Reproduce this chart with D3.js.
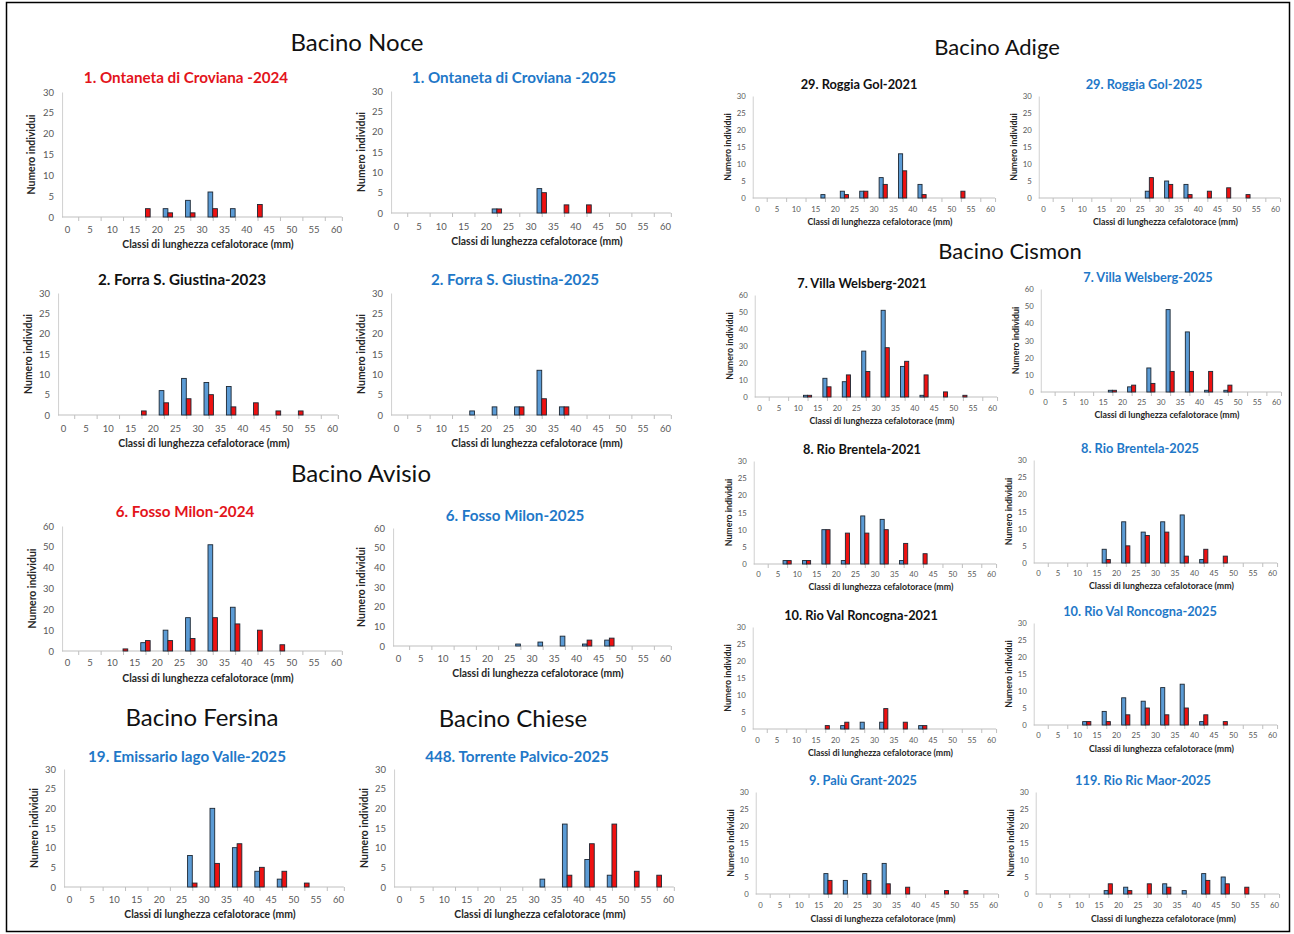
<!DOCTYPE html>
<html>
<head>
<meta charset="utf-8">
<script src="https://cdn.jsdelivr.net/npm/d3@7"></script>
<style>
  html, body { margin: 0; padding: 0; background: #ffffff; }
  svg { display: block; }
  text { font-family: Lato, "Open Sans", sans-serif; }
</style>
</head>
<body>
<svg id="chart" width="1294" height="934"></svg>
<script>
// Size classes of carapace length (mm): bars sit at class midpoints, labels at class bounds
const classMidpoints = [2.5, 7.5, 12.5, 17.5, 22.5, 27.5, 32.5, 37.5, 42.5, 47.5, 52.5, 57.5];
const xTickLabels = [0, 5, 10, 15, 20, 25, 30, 35, 40, 45, 50, 55, 60];
const yTicks30 = [0, 5, 10, 15, 20, 25, 30];
const yTicks60 = [0, 10, 20, 30, 40, 50, 60];

// Counts per class: blue series and red series for each site/year
const ontaneta2024Blue = [0, 0, 0, 0, 2, 4, 6, 2, 0, 0, 0, 0];
const ontaneta2024Red  = [0, 0, 0, 2, 1, 1, 2, 0, 3, 0, 0, 0];
const ontaneta2025Blue = [0, 0, 0, 0, 1, 0, 6, 0, 0, 0, 0, 0];
const ontaneta2025Red  = [0, 0, 0, 0, 1, 0, 5, 2, 2, 0, 0, 0];
const forra2023Blue = [0, 0, 0, 0, 6, 9, 8, 7, 0, 0, 0, 0];
const forra2023Red  = [0, 0, 0, 1, 3, 4, 5, 2, 3, 1, 1, 0];
const forra2025Blue = [0, 0, 0, 1, 2, 2, 11, 2, 0, 0, 0, 0];
const forra2025Red  = [0, 0, 0, 0, 0, 2, 4, 2, 0, 0, 0, 0];
const milon2024Blue = [0, 0, 0, 4, 10, 16, 51, 21, 0, 0, 0, 0];
const milon2024Red  = [0, 0, 1, 5, 5, 6, 16, 13, 10, 3, 0, 0];
const milon2025Blue = [0, 0, 0, 0, 0, 1, 2, 5, 1, 3, 0, 0];
const milon2025Red  = [0, 0, 0, 0, 0, 0, 0, 0, 3, 4, 0, 0];
const valle2025Blue = [0, 0, 0, 0, 0, 8, 20, 10, 4, 2, 0, 0];
const valle2025Red  = [0, 0, 0, 0, 0, 1, 6, 11, 5, 4, 1, 0];
const palvico2025Blue = [0, 0, 0, 0, 0, 0, 2, 16, 7, 3, 0, 0];
const palvico2025Red  = [0, 0, 0, 0, 0, 0, 0, 3, 11, 16, 4, 3];
const gol2021Blue = [0, 0, 0, 1, 2, 2, 6, 13, 4, 0, 0, 0];
const gol2021Red  = [0, 0, 0, 0, 1, 2, 4, 8, 1, 0, 2, 0];
const gol2025Blue = [0, 0, 0, 0, 0, 2, 5, 4, 0, 0, 0, 0];
const gol2025Red  = [0, 0, 0, 0, 0, 6, 4, 1, 2, 3, 1, 0];
const welsberg2021Blue = [0, 0, 1, 11, 9, 27, 51, 18, 1, 0, 0, 0];
const welsberg2021Red  = [0, 0, 1, 6, 13, 15, 29, 21, 13, 3, 1, 0];
const welsberg2025Blue = [0, 0, 0, 1, 3, 14, 48, 35, 1, 1, 0, 0];
const welsberg2025Red  = [0, 0, 0, 1, 4, 5, 12, 12, 12, 4, 0, 0];
const brentela2021Blue = [0, 1, 1, 10, 1, 14, 13, 1, 0, 0, 0, 0];
const brentela2021Red  = [0, 1, 1, 10, 9, 9, 10, 6, 3, 0, 0, 0];
const brentela2025Blue = [0, 0, 0, 4, 12, 9, 12, 14, 1, 0, 0, 0];
const brentela2025Red  = [0, 0, 0, 1, 5, 8, 9, 2, 4, 2, 0, 0];
const roncogna2021Blue = [0, 0, 0, 0, 1, 2, 2, 0, 1, 0, 0, 0];
const roncogna2021Red  = [0, 0, 0, 1, 2, 0, 6, 2, 1, 0, 0, 0];
const roncogna2025Blue = [0, 0, 1, 4, 8, 7, 11, 12, 1, 0, 0, 0];
const roncogna2025Red  = [0, 0, 1, 1, 3, 5, 3, 5, 3, 1, 0, 0];
const paluGrant2025Blue = [0, 0, 0, 6, 4, 6, 9, 0, 0, 0, 0, 0];
const paluGrant2025Red  = [0, 0, 0, 4, 0, 4, 3, 2, 0, 1, 1, 0];
const ricMaor2025Blue = [0, 0, 0, 1, 2, 0, 3, 1, 6, 5, 0, 0];
const ricMaor2025Red  = [0, 0, 0, 3, 1, 3, 2, 0, 4, 3, 2, 0];

const basinNames = ["Bacino Noce", "Bacino Avisio", "Bacino Fersina", "Bacino Chiese", "Bacino Adige", "Bacino Cismon"];

const siteTitles = [
  "1. Ontaneta di Croviana -2024", "1. Ontaneta di Croviana -2025",
  "2. Forra S. Giustina-2023", "2. Forra S. Giustina-2025",
  "6. Fosso Milon-2024", "6. Fosso Milon-2025",
  "19. Emissario lago Valle-2025", "448. Torrente Palvico-2025",
  "29. Roggia Gol-2021", "29. Roggia Gol-2025",
  "7. Villa Welsberg-2021", "7. Villa Welsberg-2025",
  "8. Rio Brentela-2021", "8. Rio Brentela-2025",
  "10. Rio Val Roncogna-2021", "10. Rio Val Roncogna-2025",
  "9. Palù Grant-2025", "119. Rio Ric Maor-2025"
];
const siteBlue = [ontaneta2024Blue, ontaneta2025Blue, forra2023Blue, forra2025Blue, milon2024Blue, milon2025Blue,
  valle2025Blue, palvico2025Blue, gol2021Blue, gol2025Blue, welsberg2021Blue, welsberg2025Blue,
  brentela2021Blue, brentela2025Blue, roncogna2021Blue, roncogna2025Blue, paluGrant2025Blue, ricMaor2025Blue];
const siteRed = [ontaneta2024Red, ontaneta2025Red, forra2023Red, forra2025Red, milon2024Red, milon2025Red,
  valle2025Red, palvico2025Red, gol2021Red, gol2025Red, welsberg2021Red, welsberg2025Red,
  brentela2021Red, brentela2025Red, roncogna2021Red, roncogna2025Red, paluGrant2025Red, ricMaor2025Red];
const siteYMax = [30, 30, 30, 30, 60, 60, 30, 30, 30, 30, 60, 60, 30, 30, 30, 30, 30, 30];
// title tone: 0 = black, 1 = red, 2 = blue
const siteTitleTone = [1, 2, 0, 2, 1, 2, 2, 2, 0, 2, 0, 2, 0, 2, 0, 2, 2, 2];

const xTitle = "Classi di lunghezza cefalotorace (mm)";
const yTitle = "Numero individui";

// ---- styling & placement ----
const toneColor = ["#111111", "#e3141b", "#1f78c8"];
const BLUE = "#5b9bd5", RED = "#ee1111", BAR_STROKE = "#1c2733";

// x0/x60: pixel of labels 0 and 60; top/bottom: plot extent; lab/xt: label & axis-title rows;
// tt/tx: panel title row & centre; yt: y-axis title x; big: left-half typography
const frames = [
  {x0: 67,  x60: 336,  top: 92,  bottom: 217, lab: 229, xt: 244, tt: 77,  tx: 186,  yt: 31,   big: true},
  {x0: 396, x60: 665,  top: 91,  bottom: 213, lab: 226, xt: 241, tt: 77,  tx: 514,  yt: 361,  big: true},
  {x0: 63,  x60: 332,  top: 293, bottom: 415, lab: 428, xt: 443, tt: 279, tx: 182,  yt: 28,   big: true},
  {x0: 396, x60: 665,  top: 293, bottom: 415, lab: 428, xt: 443, tt: 279, tx: 515,  yt: 361,  big: true},
  {x0: 67,  x60: 336,  top: 526, bottom: 651, lab: 662, xt: 678, tt: 511, tx: 185,  yt: 32,   big: true},
  {x0: 398, x60: 665,  top: 528, bottom: 646, lab: 658, xt: 673, tt: 515, tx: 515,  yt: 361,  big: true},
  {x0: 69,  x60: 338,  top: 769, bottom: 887, lab: 899, xt: 914, tt: 756, tx: 187,  yt: 34,   big: true},
  {x0: 399, x60: 668,  top: 769, bottom: 887, lab: 899, xt: 914, tt: 756, tx: 517,  yt: 364,  big: true},
  {x0: 757, x60: 990,  top: 96,  bottom: 198, lab: 209, xt: 221, tt: 84,  tx: 859,  yt: 727,  big: false},
  {x0: 1043,x60: 1275, top: 96,  bottom: 198, lab: 209, xt: 221, tt: 84,  tx: 1144, yt: 1013, big: false},
  {x0: 759, x60: 992,  top: 295, bottom: 397, lab: 408, xt: 420, tt: 283, tx: 862,  yt: 729,  big: false},
  {x0: 1045,x60: 1276, top: 289, bottom: 392, lab: 402, xt: 414, tt: 277, tx: 1148, yt: 1015, big: false},
  {x0: 758, x60: 991,  top: 461, bottom: 564, lab: 574, xt: 586, tt: 449, tx: 862,  yt: 728,  big: false},
  {x0: 1038,x60: 1272, top: 460, bottom: 563, lab: 573, xt: 585, tt: 448, tx: 1140, yt: 1008, big: false},
  {x0: 757, x60: 991,  top: 627, bottom: 729, lab: 740, xt: 752, tt: 615, tx: 861,  yt: 727,  big: false},
  {x0: 1038,x60: 1272, top: 623, bottom: 725, lab: 735, xt: 748, tt: 611, tx: 1140, yt: 1008, big: false},
  {x0: 760, x60: 993,  top: 792, bottom: 894, lab: 905, xt: 918, tt: 780, tx: 863,  yt: 730,  big: false},
  {x0: 1040,x60: 1274, top: 792, bottom: 894, lab: 905, xt: 918, tt: 780, tx: 1143, yt: 1010, big: false}
];
const basinPlacement = [
  {x: 357, y: 41, size: 24}, {x: 361, y: 472, size: 24}, {x: 202, y: 716, size: 24},
  {x: 513, y: 717, size: 24}, {x: 997, y: 46, size: 22}, {x: 1010, y: 250, size: 22}
];

const svg = d3.select("#chart");

// outer frame
svg.append("rect")
  .attr("x", 6.5).attr("y", 2.5).attr("width", 1283).attr("height", 929)
  .attr("fill", "none").attr("stroke", "#000").attr("stroke-width", 1.5);

// basin headings
svg.selectAll("text.basin")
  .data(basinNames)
  .join("text")
  .attr("class", "basin")
  .attr("x", (d, i) => basinPlacement[i].x)
  .attr("y", (d, i) => basinPlacement[i].y)
  .attr("text-anchor", "middle")
  .attr("dominant-baseline", "central")
  .attr("font-size", (d, i) => basinPlacement[i].size)
  .attr("fill", "#111")
  .text(d => d);

const pairHalf = 1.05; // width of one bar in mm units

siteTitles.forEach((title, i) => {
  const f = frames[i];
  const yMax = siteYMax[i];
  const g = svg.append("g");

  const x = d3.scaleLinear().domain([0, 60]).range([f.x0, f.x60]);
  const y = d3.scaleLinear().domain([0, yMax]).range([f.bottom, f.top]);
  const xLeft = x(-1.1), xRight = x(61.3);

  const tickFont = f.big ? 9.5 : 7.8;
  const titleFont = f.big ? 15.2 : 12.8;
  const axisTitleFont = f.big ? 10.4 : 8.8;

  // y axis (line + numbers)
  const yAxis = g.append("g")
    .attr("transform", `translate(${xLeft},0)`)
    .call(d3.axisLeft(y).tickValues(yMax === 60 ? yTicks60 : yTicks30).tickSize(0).tickPadding(f.big ? 8 : 7));
  yAxis.select(".domain").attr("stroke", "#d0d0d0").attr("stroke-width", 1);
  yAxis.selectAll("text").attr("font-size", tickFont).attr("fill", "#595959")
    .attr("font-family", "Lato, sans-serif");

  // x axis: tick marks between class labels
  const tickMarks = d3.range(0, 13).map(k => k * 5 - 2.5).concat([61.3]).filter(v => v > -1.1);
  const xMarks = g.append("g")
    .attr("transform", `translate(0,${f.bottom})`)
    .call(d3.axisBottom(x).tickValues(tickMarks).tickSize(4).tickFormat(""));
  xMarks.select(".domain").remove();
  xMarks.selectAll("line").attr("stroke", "#bfbfbf");
  g.append("line")
    .attr("x1", xLeft).attr("x2", xRight)
    .attr("y1", f.bottom).attr("y2", f.bottom)
    .attr("stroke", "#bfbfbf");

  const xAxis = g.append("g")
    .attr("transform", `translate(0,${f.bottom})`)
    .call(d3.axisBottom(x).tickValues(xTickLabels).tickSize(0));
  xAxis.select(".domain").remove();
  xAxis.selectAll("text")
    .attr("y", f.lab - f.bottom).attr("dy", null)
    .attr("dominant-baseline", "central")
    .attr("font-size", tickFont).attr("fill", "#595959")
    .attr("font-family", "Lato, sans-serif");

  // bars: blue on the left half of each class, red on the right half
  const rows = classMidpoints.map((m, k) => ({m, b: siteBlue[i][k], r: siteRed[i][k]}));
  g.selectAll("rect.b").data(rows.filter(d => d.b > 0)).join("rect")
    .attr("x", d => x(d.m - pairHalf)).attr("width", d => x(d.m) - x(d.m - pairHalf))
    .attr("y", d => y(d.b)).attr("height", d => y(0) - y(d.b))
    .attr("fill", BLUE).attr("stroke", BAR_STROKE).attr("stroke-width", 0.9);
  g.selectAll("rect.r").data(rows.filter(d => d.r > 0)).join("rect")
    .attr("x", d => x(d.m)).attr("width", d => x(d.m + pairHalf) - x(d.m))
    .attr("y", d => y(d.r)).attr("height", d => y(0) - y(d.r))
    .attr("fill", RED).attr("stroke", BAR_STROKE).attr("stroke-width", 0.9);

  // titles
  g.append("text")
    .attr("x", f.tx).attr("y", f.tt)
    .attr("text-anchor", "middle").attr("dominant-baseline", "central")
    .attr("font-size", titleFont).attr("font-weight", 700)
    .attr("fill", toneColor[siteTitleTone[i]])
    .text(title);

  g.append("text")
    .attr("x", (xLeft + xRight) / 2 + 6).attr("y", f.xt)
    .attr("text-anchor", "middle").attr("dominant-baseline", "central")
    .attr("font-size", axisTitleFont).attr("font-weight", 700).attr("fill", "#262626")
    .text(xTitle);

  g.append("text")
    .attr("transform", `translate(${f.yt},${(f.top + f.bottom) / 2}) rotate(-90)`)
    .attr("text-anchor", "middle").attr("dominant-baseline", "central")
    .attr("font-size", axisTitleFont).attr("font-weight", 700).attr("fill", "#262626")
    .text(yTitle);
});
</script>
</body>
</html>
